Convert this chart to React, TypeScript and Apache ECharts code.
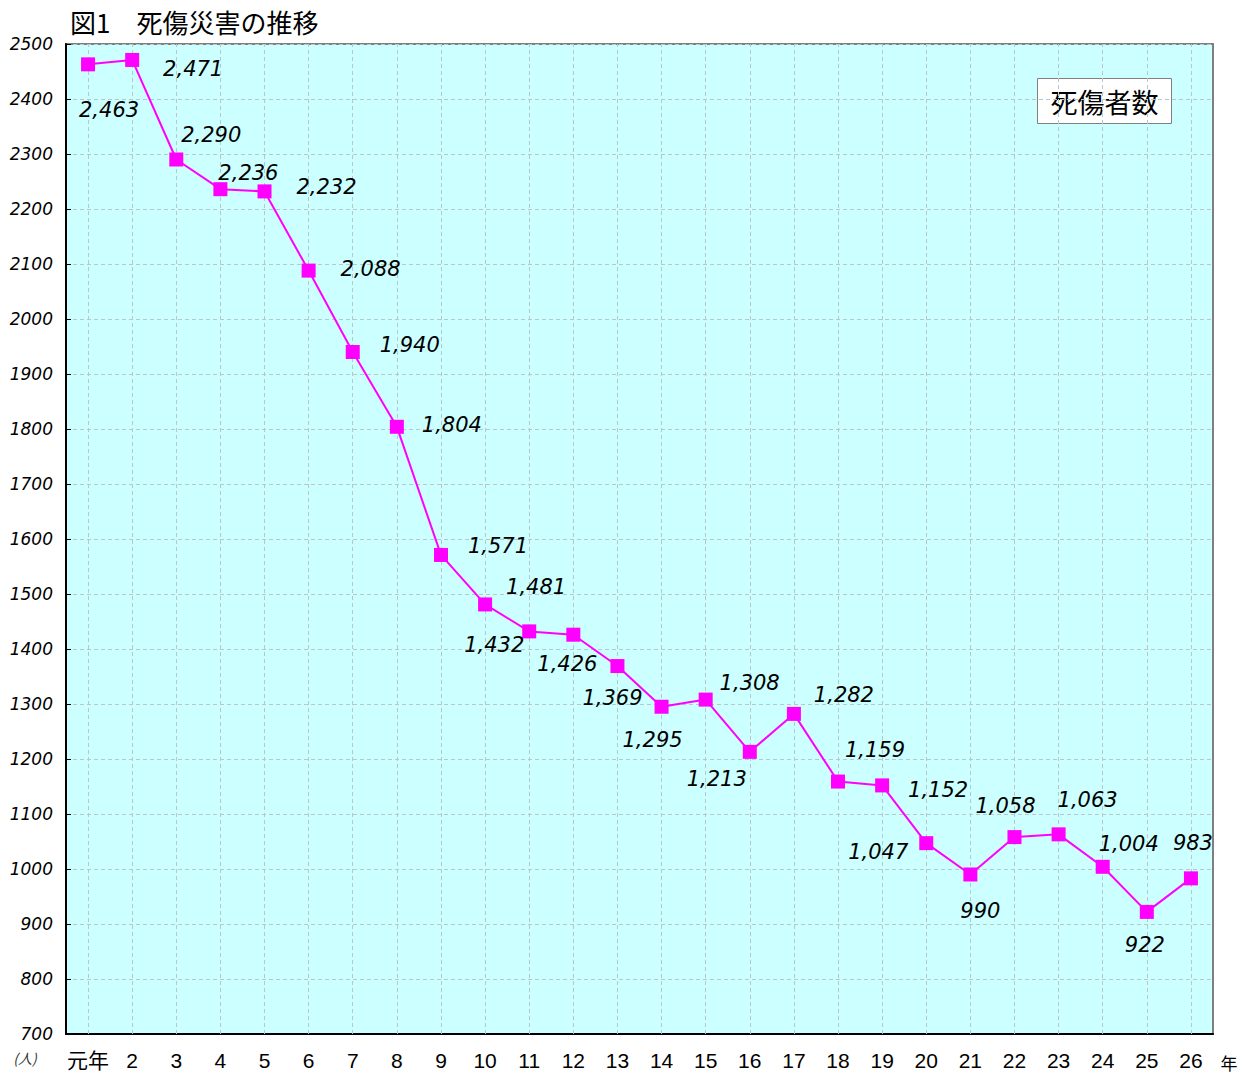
import React, { useEffect, useRef } from "react";
import * as echarts from "echarts";

const categories = ["元年", "2", "3", "4", "5", "6", "7", "8", "9", "10", "11", "12", "13", "14", "15", "16", "17", "18", "19", "20", "21", "22", "23", "24", "25", "26"];
const casualties = [2463, 2471, 2290, 2236, 2232, 2088, 1940, 1804, 1571, 1481, 1432, 1426, 1369, 1295, 1308, 1213, 1282, 1159, 1152, 1047, 990, 1058, 1063, 1004, 922, 983];
const seriesName = "死傷者数";
const titleText = "図1　死傷災害の推移";

// label placement (offset from point, px)
const labelOffsets: [number, number][] = [
  [21, 46], [61, 9], [35, -25], [28, -16], [62, -4], [62, -2], [57, -7], [55, -2],
  [57, -9], [51, -17], [-35, 14], [-6, 29], [-5, 32], [-9, 33], [44, -17], [-33, 27],
  [50, -19], [37, -32], [56, 5], [-48, 9], [10, 36], [-9, -31], [29, -34], [26, -23],
  [-2, 33], [2, -35],
];

export default function App() {
  const ref = useRef<HTMLDivElement>(null);
  useEffect(() => {
    document.body.style.margin = "0";
    const chart = echarts.init(ref.current!, null, { renderer: "svg" });
    const fmt = (v: number) => v.toLocaleString("en-US");
    chart.setOption({
      animation: false,
      backgroundColor: "#ffffff",
      grid: {
        left: 66, top: 44, right: 32, bottom: 41,
        show: true, backgroundColor: "#ccffff", borderColor: "#7f7f7f", borderWidth: 2,
      },
      xAxis: {
        type: "category",
        data: categories,
        boundaryGap: true,
        axisLine: { lineStyle: { color: "#000", width: 2 } },
        axisTick: { inside: true, length: 6, lineStyle: { color: "#000", width: 1 } },
        axisLabel: { color: "#000", fontSize: 21, margin: 16, fontFamily: "Liberation Sans, Noto Sans CJK JP", interval: 0 },
        splitLine: { show: false },
      },
      yAxis: {
        type: "value",
        min: 700, max: 2500, interval: 100,
        axisLine: { show: true, lineStyle: { color: "#000", width: 2 } },
        axisTick: { show: true, inside: true, length: 5, lineStyle: { color: "#000" } },
        axisLabel: { color: "#000", fontSize: 17, fontStyle: "italic", fontFamily: "DejaVu Sans", margin: 13, formatter: (v: number) => String(v) },
        splitLine: { show: true, lineStyle: { color: "#b8c8c8", type: [4, 3], width: 1 } },
      },
      series: [
        {
          name: seriesName,
          type: "line",
          data: casualties.map((v, i) => ({
            value: v,
            label: { offset: labelOffsets[i] },
          })),
          symbol: "rect",
          symbolSize: 14,
          lineStyle: { color: "#ff00ff", width: 2 },
          itemStyle: { color: "#ff00ff" },
          label: {
            show: true,
            position: "inside",
            align: "center",
            verticalAlign: "middle",
            formatter: (p: any) => fmt(p.value),
            color: "#000",
            fontSize: 21,
            fontStyle: "italic",
            fontFamily: "DejaVu Sans",
          },
          markLine: {
            silent: true,
            symbol: "none",
            label: { show: false },
            lineStyle: { color: "#b8c8c8", type: [4, 3], width: 1 },
            data: categories.map((c) => ({ xAxis: c })),
            z: 1,
          },
          z: 3,
        },
      ],
      graphic: [
        {
          type: "text", left: 70, top: 8,
          style: { text: titleText, fontSize: 26, fill: "#000", fontFamily: "Noto Sans CJK JP" },
        },
        {
          type: "group", left: 1037, top: 78,
          children: [
            { type: "rect", shape: { x: 0, y: 0, width: 134, height: 45 }, style: { fill: "#fff", stroke: "#808080", lineWidth: 1 } },
            { type: "text", x: 67, y: 23, style: { text: seriesName, fontSize: 27, fill: "#000", align: "center", verticalAlign: "middle", fontFamily: "Noto Sans CJK JP" } },
          ],
        },
        {
          type: "text", x: 25, y: 1058,
          style: { text: "(人)", fontSize: 14, fill: "#333", fontStyle: "italic", align: "center", verticalAlign: "middle", fontFamily: "Noto Sans CJK JP" },
        },
        {
          type: "text", x: 1229, y: 1062,
          style: { text: "年", fontSize: 17, fill: "#000", align: "center", verticalAlign: "middle", fontFamily: "Noto Sans CJK JP" },
        },
      ],
    });
    return () => chart.dispose();
  }, []);
  return <div ref={ref} style={{ width: 1245, height: 1075 }} />;
}
